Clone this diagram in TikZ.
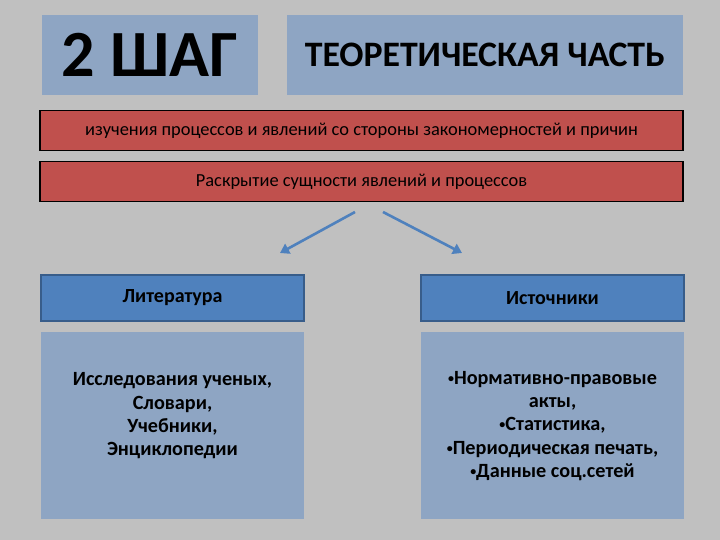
\documentclass[tikz,border=0pt]{standalone}
\usepackage{fontspec}
\setmainfont{Carlito}
\usepackage{xcolor}
\usetikzlibrary{arrows.meta,positioning}
\definecolor{bggrey}{HTML}{C0C0C0}
\definecolor{boxblue}{HTML}{8EA5C3}
\definecolor{hdrblue}{HTML}{4F81BD}
\definecolor{hdrline}{HTML}{385D8A}
\definecolor{barred}{HTML}{C0504D}
\newcommand{\blt}{{\fontsize{12}{12}\selectfont\raisebox{0.35ex}{•}}}

\begin{document}
\begin{tikzpicture}[x=1pt, y=-1pt,
    pale/.style={fill=boxblue, inner sep=0pt, align=center},
    bar/.style={draw=black, line width=1.6pt, fill=barred, minimum width=643pt, minimum height=40pt, inner sep=0pt, font=\fontsize{18.4}{22}\selectfont},
    hdr/.style={draw=hdrline, line width=1.2pt, fill=hdrblue, minimum width=263pt, minimum height=46pt, inner sep=0pt, font=\bfseries\fontsize{20}{23}\selectfont},
    body/.style={pale, minimum width=263pt, minimum height=187pt},
    bodytxt/.style={align=center, inner sep=0pt, font=\bfseries\fontsize{20.2}{23.3}\selectfont},
    arr/.style={-{Triangle[length=9pt,width=11pt]}, draw=hdrblue, line width=2.6pt}
  ]
    \fill[bggrey] (0,0) rectangle (720,540);
    \node[pale, minimum width=216pt, minimum height=80pt, font=\bfseries\fontsize{66}{70}\selectfont] (shag) at (150,55) {2 ШАГ};
    \node[pale, minimum width=396pt, minimum height=80pt, font=\bfseries\fontsize{35.8}{40}\selectfont] (teor) at (485,55) {ТЕОРЕТИЧЕСКАЯ ЧАСТЬ};
    \node[bar] (izuch) at (361.5,130.5) {изучения процессов и явлений со стороны закономерностей и причин};
    \node[bar] (rask) at (361.5,181.5) {Раскрытие сущности явлений и процессов};
    \node[hdr] (lit) at (172.5,298) {Литература};
    \node[hdr] (ist) at (552.5,298) {Источники};
    \node[body] (litb) at (172.5,425.5) {};
    \node[body] (istb) at (552.5,425.5) {};
    \node[bodytxt] (littxt) at (172.5,416) {Исследования ученых,\\Словари,\\Учебники,\\Энциклопедии};
    \node[bodytxt] (isttxt) at (552.5,426) {\blt Нормативно-правовые\\акты,\\\blt Статистика,\\\blt Периодическая печать,\\\blt Данные соц.сетей};
    \coordinate (la) at (355,212);
    \coordinate (lb) at (280,253);
    \coordinate (ra) at (383,212);
    \coordinate (rb) at (462,253);
    \draw[arr] (la) -- (lb);
    \draw[arr] (ra) -- (rb);
  \end{tikzpicture}
\end{document}
